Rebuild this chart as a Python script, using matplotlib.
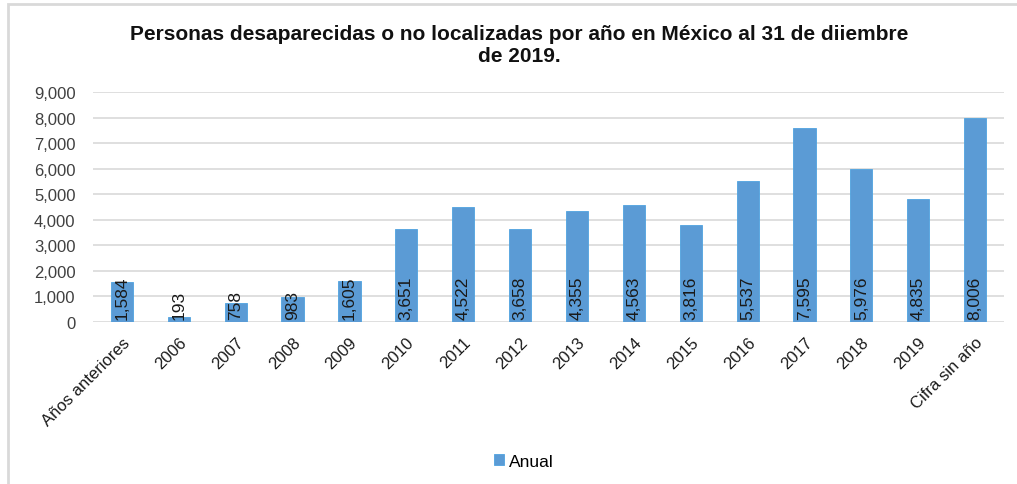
import matplotlib.pyplot as plt
from matplotlib.patches import Rectangle

plt.rcParams['font.family'] = ['Liberation Sans', 'DejaVu Sans']

categorias = ["Años anteriores", "2006", "2007", "2008", "2009", "2010", "2011", "2012",
              "2013", "2014", "2015", "2016", "2017", "2018", "2019", "Cifra sin año"]
anual = [1584, 193, 758, 983, 1605, 3651, 4522, 3658, 4355, 4563, 3816, 5537, 7595,
         5976, 4835, 8006]

titulo = "Personas desaparecidas o no localizadas por año en México al 31 de diiembre\nde 2019."

fig = plt.figure(figsize=(10.17, 4.85), dpi=100)
# marco gris del grafico
fig.patches.append(Rectangle((8 / 1017, -0.05), 1.1, 1 - 5 / 485 + 0.05,
                             transform=fig.transFigure, fill=False,
                             edgecolor="#d9d9d9", linewidth=2))

ax = fig.add_axes([0.0919, 0.334, 0.8949, 0.474])
x = list(range(len(categorias)))
barras = ax.bar(x, anual, width=0.39, color="#5b9bd5", edgecolor="#4fa3e0",
                linewidth=0.6, label="Anual", zorder=3)

for xi, v in zip(x, anual):
    ax.text(xi, 110, f"{v:,}", rotation=90, ha="center", va="bottom",
            fontsize=12.5, color="#1a1a1a", zorder=4)

ax.set_xlim(-0.5, len(categorias) - 0.5)
ax.set_ylim(0, 9000)
ax.set_yticks(range(0, 9001, 1000))
ax.set_yticklabels([f"{t:,}" for t in range(0, 9001, 1000)], fontsize=12, color="#404040")
ax.set_xticks(x)
ax.set_xticklabels(categorias, rotation=45, ha="right", rotation_mode="anchor",
                   fontsize=12, color="#1a1a1a")
ax.tick_params(axis="y", length=0, pad=13)
ax.tick_params(axis="x", length=0, pad=9)
ax.grid(axis="y", color="#d9d9d9", linewidth=1.2, zorder=0)
for s in ax.spines.values():
    s.set_visible(False)

fig.text(0.511, 0.906, titulo, ha="center", va="center", fontsize=15,
         fontweight="bold", color="#111111", linespacing=1.25)

fig.legend(handles=[barras], labels=["Anual"], loc="center", bbox_to_anchor=(0.515, 0.047),
           frameon=False, fontsize=12.5, handlelength=0.6, handleheight=0.6,
           handletextpad=0.3)

fig.savefig("out.png", dpi=100)
